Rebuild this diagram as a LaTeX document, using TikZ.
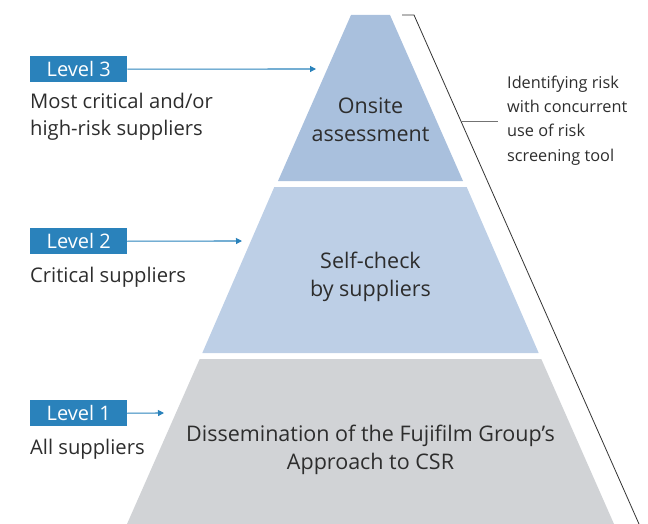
\documentclass[tikz,border=0pt]{standalone}
\usepackage{fontspec}
\setmainfont{Open Sans}
\usetikzlibrary{arrows.meta}
\definecolor{tierthree}{RGB}{169,192,221}
\definecolor{tiertwo}{RGB}{189,207,230}
\definecolor{tierone}{RGB}{209,211,214}
\definecolor{levelblue}{RGB}{42,130,187}
\definecolor{txt}{RGB}{45,45,45}
\tikzset{
  levelbox/.style={fill=levelblue, text=white, minimum width=97pt, minimum height=26pt,
    inner sep=0pt, anchor=north west, font=\fontsize{20}{24}\selectfont},
  sidelabel/.style={anchor=base west, inner sep=0pt, text=txt, font=\fontsize{20.2}{24}\selectfont},
  tiertext/.style={anchor=base, inner sep=0pt, text=txt, font=\fontsize{21.5}{26}\selectfont},
  notetext/.style={anchor=base west, inner sep=0pt, text=txt, font=\fontsize{16.3}{20}\selectfont},
  levelarrow/.style={draw=levelblue, line width=1.1pt, -{Triangle[length=6pt,width=6pt]}},
  bracketline/.style={draw=black!80, line width=0.8pt},
  tickline/.style={draw=black!55, line width=1pt},
}
\begin{document}
\begin{tikzpicture}[x=1pt, y=-1pt]
\useasboundingbox (0,0) rectangle (648,524);
% pyramid tiers
\fill[tierthree] (351,15) -- (390,15) -- (463,181) -- (278,181) -- cycle;
\fill[tiertwo] (274.3,187) -- (466.7,187) -- (538.7,353) -- (202.3,353) -- cycle;
\fill[tierone] (199.7,359) -- (541.3,359) -- (614,524) -- (127,524) -- cycle;
% tier texts
\node[tiertext] (t3a) at (370.5,114) {Onsite};
\node[tiertext] (t3b) at (370.5,142) {assessment};
\node[tiertext] (t2a) at (370.5,268) {Self-check};
\node[tiertext] (t2b) at (370.5,296) {by suppliers};
\node[tiertext] (t1a) at (370.5,441) {Dissemination of the Fujifilm Group’s};
\node[tiertext] (t1b) at (370.5,469) {Approach to CSR};
% level boxes
\node[levelbox] (L3) at (30,56) {Level 3};
\node[levelbox] (L2) at (30,228) {Level 2};
\node[levelbox] (L1) at (30,400) {Level 1};
\coordinate (a3) at (316,69);
\coordinate (a2) at (242,241);
\coordinate (a1) at (164,413);
\draw[levelarrow] (L3.east) -- (a3);
\draw[levelarrow] (L2.east) -- (a2);
\draw[levelarrow] (L1.east) -- (a1);
% side labels
\node[sidelabel] (s3a) at (30,109) {Most critical and/or};
\node[sidelabel] (s3b) at (30,136) {high-risk suppliers};
\node[sidelabel] (s2) at (30,282) {Critical suppliers};
\node[sidelabel] (s1) at (30,454) {All suppliers};
% bracket
\coordinate (b0) at (402,15);
\coordinate (b1) at (414,15);
\coordinate (b2) at (639,524);
\draw[bracketline] (b0) -- (b1) -- (b2);
\coordinate (k0) at (461.3,122);
\coordinate (k1) at (498,122);
\draw[tickline] (k0) -- (k1);
% note
\node[notetext] (n1) at (507,89) {Identifying risk};
\node[notetext] (n2) at (507,113) {with concurrent};
\node[notetext] (n3) at (507,137) {use of risk};
\node[notetext] (n4) at (507,161) {screening tool};
\end{tikzpicture}
\end{document}
